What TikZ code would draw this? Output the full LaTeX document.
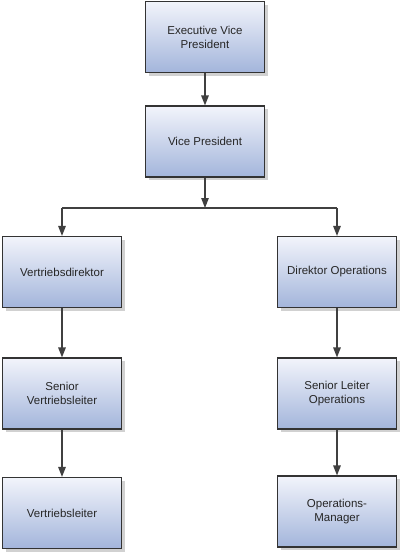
\documentclass[tikz,border=0pt]{standalone}
\usepackage{fontspec}
\setmainfont{Liberation Sans}
\usetikzlibrary{arrows.meta,shadows}
\definecolor{boxtop}{HTML}{F2F4FB}
\definecolor{boxbot}{HTML}{A3B5DB}
\definecolor{linec}{HTML}{404040}
\tikzset{
  orgbox/.style={draw=linec!80!black, line width=1.1pt, top color=boxtop, bottom color=boxbot,
    minimum width=119pt, minimum height=71pt, align=center, font=\fontsize{11.5}{14}\selectfont,
    inner sep=0pt, text=black!85,
    drop shadow={shadow xshift=3pt, shadow yshift=-3pt, fill=black!18, opacity=1}},
  conn/.style={draw=linec, line width=1.2pt},
  arr/.style={conn, -{Triangle[length=10pt,width=7.5pt]}}
}
\begin{document}
\begin{tikzpicture}[x=1pt,y=-1pt]
\useasboundingbox (0,0) rectangle (400,554);
\node[orgbox] (evp) at (205,37) {Executive Vice\\President};
\node[orgbox] (vp) at (205,141.5) {Vice President};
\node[orgbox] (vd) at (62,272) {Vertriebsdirektor};
\node[orgbox] (do) at (337,272) {Direktor Operations};
\node[orgbox] (svl) at (62,393.5) {Senior\\Vertriebsleiter};
\node[orgbox] (slo) at (337,393.5) {Senior Leiter\\Operations};
\node[orgbox] (vl) at (62,513) {Vertriebsleiter};
\node[orgbox] (om) at (337,511.5) {Operations-\\Manager};
\coordinate (split) at (205,208);
\coordinate (hl) at (62,208);
\coordinate (hr) at (337,208);
\draw[arr] (evp) -- (vp);
\draw[arr] (vp) -- (split);
\draw[conn] (hl) -- (hr);
\draw[arr] (hl) -- (vd);
\draw[arr] (hr) -- (do);
\draw[arr] (vd) -- (svl);
\draw[arr] (svl) -- (vl);
\draw[arr] (do) -- (slo);
\draw[arr] (slo) -- (om);
\end{tikzpicture}
\end{document}
